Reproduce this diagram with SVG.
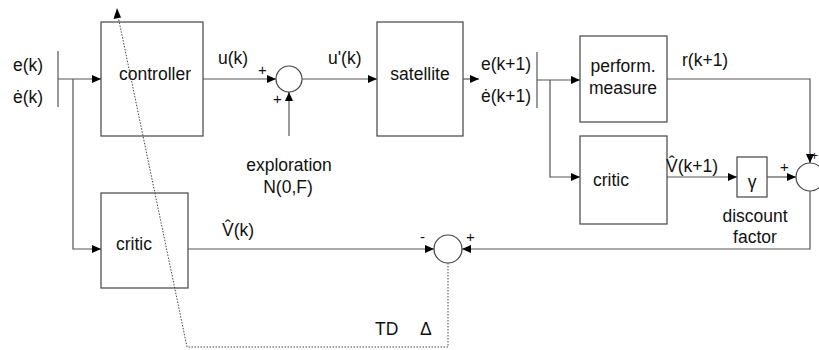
<svg xmlns="http://www.w3.org/2000/svg" width="819" height="350" viewBox="0 0 819 350">
<defs>
<marker id="ah" markerUnits="userSpaceOnUse" markerWidth="9" markerHeight="8" refX="9" refY="4" orient="auto"><path d="M0,0 L9,4 L0,8 z" fill="#000"/></marker>
<style>
.box{fill:#fff;stroke:#444;stroke-width:1.2}
.sum{fill:#fff;stroke:#444;stroke-width:1.2}
.ln{fill:none;stroke:#555;stroke-width:1.2}
.ar{fill:none;stroke:#555;stroke-width:1.2;marker-end:url(#ah)}
.dot{fill:none;stroke:#444;stroke-width:1;stroke-dasharray:1.5 1.5}
text{font-family:"Liberation Sans",Arial,sans-serif;font-size:17.5px;fill:#111}
.m{text-anchor:middle}
.s{font-size:15px}
</style>
</defs>
<rect width="819" height="350" fill="#fff"/>
<g id="controller"><rect class="box" x="101" y="22" width="102" height="114"/><text class="m" x="155" y="80">controller</text></g>
<g id="sum1"><circle class="sum" cx="289" cy="79" r="13"/><text class="s" x="258" y="75">+</text><text class="s" x="273" y="104">+</text></g>
<g id="satellite"><rect class="box" x="377" y="22" width="86" height="114"/><text class="m" x="420" y="80">satellite</text></g>
<g id="perform"><rect class="box" x="580" y="36" width="87" height="86"/><text class="m" x="623" y="72">perform.</text><text class="m" x="623" y="94">measure</text></g>
<g id="critic2"><rect class="box" x="580" y="136" width="87" height="88"/><text x="593" y="186">critic</text></g>
<g id="gamma"><rect class="box" x="737" y="157" width="30" height="40"/><text class="m" x="752" y="188">γ</text></g>
<g id="sum2"><circle class="sum" cx="810" cy="177" r="14"/><text class="s" x="780" y="172">+</text><text x="811" y="160" style="font-size:12px">+</text></g>
<g id="critic1"><rect class="box" x="101" y="193" width="87" height="95"/><text x="116" y="250">critic</text></g>
<g id="sum3"><circle class="sum" cx="448" cy="249" r="14"/><text class="s" x="420" y="242">-</text><text class="s" x="466" y="242">+</text></g>
<g id="labels">
<text x="13" y="71">e(k)</text>
<text x="13" y="103">ė(k)</text>
<text x="218" y="64">u(k)</text>
<text x="328" y="64">u'(k)</text>
<text x="481" y="70">e(k+1)</text>
<text x="481" y="102">ė(k+1)</text>
<text x="682" y="66">r(k+1)</text>
<text x="666" y="172">V̂(k+1)</text>
<text class="m" x="755" y="222">discount</text>
<text class="m" x="755" y="243">factor</text>
<text class="m" x="289" y="171">exploration</text>
<text class="m" x="288" y="193">N(0,F)</text>
<text x="222" y="236">V̂(k)</text>
<text x="375" y="335">TD</text>
<text x="420" y="335">Δ</text>
</g>
<g id="connectors">
<line class="ln" x1="58" y1="51" x2="58" y2="107"/>
<line class="ar" x1="58" y1="79" x2="101" y2="79"/>
<polyline class="ar" points="73,79 73,249 101,249"/>
<line class="ar" x1="203" y1="79" x2="276" y2="79"/>
<line class="ar" x1="289" y1="136" x2="289" y2="92"/>
<line class="ar" x1="302" y1="79" x2="377" y2="79"/>
<line class="ar" x1="463" y1="79" x2="479" y2="79"/>
<line class="ln" x1="537" y1="52" x2="537" y2="108"/>
<line class="ar" x1="537" y1="80" x2="580" y2="80"/>
<polyline class="ar" points="550,80 550,177 580,177"/>
<polyline class="ar" points="667,79 810,79 810,163"/>
<line class="ar" x1="667" y1="177" x2="737" y2="177"/>
<line class="ar" x1="767" y1="177" x2="796" y2="177"/>
<polyline class="ar" points="810,191 810,249 462,249"/>
<line class="ar" x1="188" y1="249" x2="434" y2="249"/>
<polyline class="dot" points="448,263 448,347 187,347 118,16"/>
<path d="M117,8 L113.5,19 L121,17.5 z" fill="#000"/>
</g>
</svg>
